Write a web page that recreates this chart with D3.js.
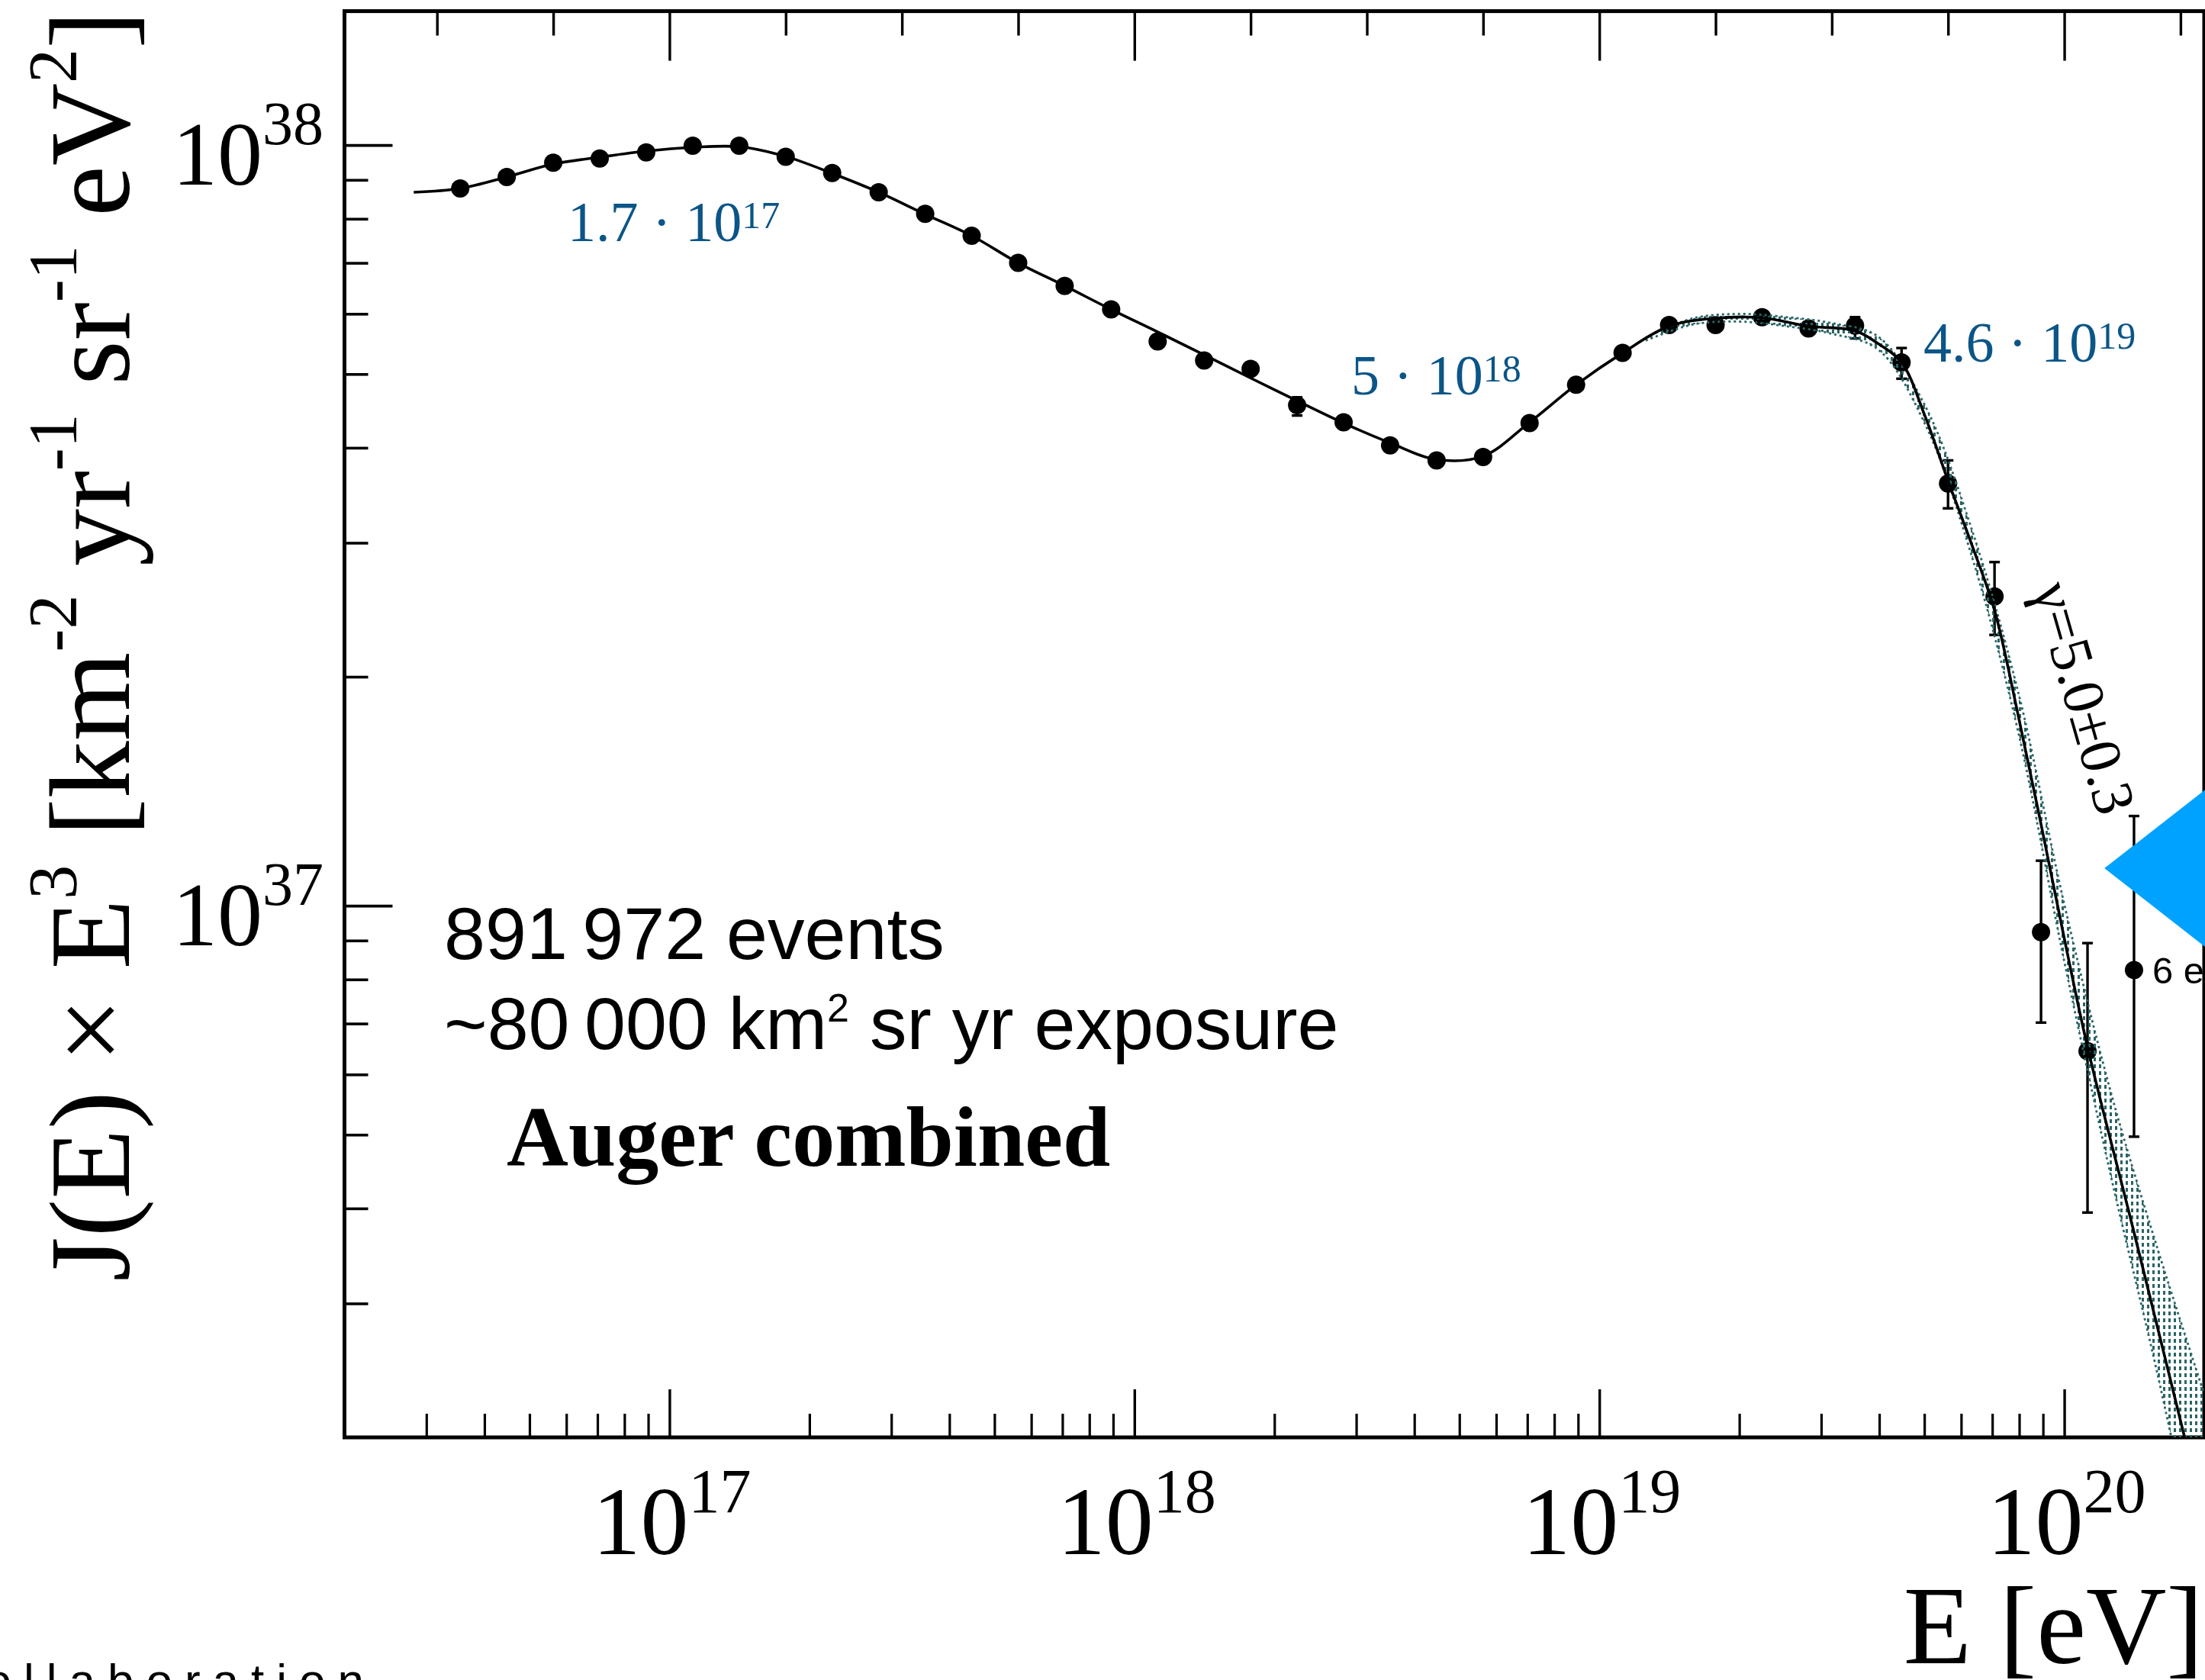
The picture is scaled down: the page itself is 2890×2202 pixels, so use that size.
<!DOCTYPE html>
<html>
<head>
<meta charset="utf-8">
<script src="https://cdn.jsdelivr.net/npm/d3@7"></script>
<style>
  html, body { margin: 0; padding: 0; background: #ffffff; }
  svg { display: block; }
</style>
</head>
<body>
<svg id="chart" width="2890" height="2202"></svg>
<script>
// ---------------- DATA ----------------
// bin centres, log10(E / eV)
const logE = [16.55,16.65,16.75,16.85,16.95,17.05,17.15,17.25,17.35,17.45,
              17.55,17.65,17.75,17.85,17.95,18.05,18.15,18.25,18.35,18.45,
              18.55,18.65,18.75,18.85,18.95,19.05,19.15,19.25,19.35,19.45,
              19.55,19.65,19.75,19.85,19.95,20.05,20.15];
// J(E) x E^3, in units of 1e37 km^-2 yr^-1 sr^-1 eV^2
const flux = [8.77,9.08,9.48,9.60,9.78,9.98,9.98,9.65,9.19,8.67,
              8.12,7.60,7.00,6.53,6.08,5.52,5.21,5.08,4.55,4.32,
              4.03,3.85,3.89,4.31,4.84,5.33,5.80,5.80,5.94,5.74,
              5.79,5.18,3.59,2.55,0.923,0.644,0.823];
// error-bar ends (null = hidden behind the marker)
const errHigh = [null,null,null,null,null,null,null,null,null,null,
                 null,null,null,null,null,null,null,null,4.66,null,
                 null,null,null,null,null,null,null,null,null,null,
                 5.94,5.41,3.85,2.83,1.146,0.893,1.312];
const errLow  = [null,null,null,null,null,null,null,null,null,null,
                 null,null,null,null,null,null,null,null,4.41,null,
                 null,null,null,null,null,null,null,null,null,null,
                 5.57,4.93,3.33,2.27,0.702,0.395,0.497];

// fitted spectrum
const fitLogE = [16.45,16.55,16.65,16.75,16.85,16.95,17.05,17.15,17.25,17.35,
                 17.45,17.55,17.65,17.75,17.85,17.95,18.05,18.15,18.25,18.35,
                 18.45,18.55,18.65,18.75,18.85,18.95,19.05,19.15,19.25,19.35,
                 19.45,19.55,19.60,19.65,19.70,19.75,19.80,19.85,19.90,19.95,
                 20.00,20.05,20.15,20.30];
const fitFlux = [8.67,8.77,9.08,9.44,9.64,9.82,9.93,9.95,9.66,9.18,
                 8.67,8.11,7.60,7.00,6.53,6.08,5.68,5.30,4.94,4.61,
                 4.31,4.06,3.86,3.90,4.32,4.84,5.33,5.78,5.92,5.93,
                 5.78,5.70,5.48,5.18,4.41,3.62,2.995,2.445,1.79,1.28,
                 0.906,0.652,0.372,0.158];

// uncertainty band of the fit
const bandLogE = [19.10,19.20,19.30,19.40,19.50,19.60,19.70,19.80,19.90,20.00,20.10,20.20,20.30];
const bandHigh = [5.585,5.916,5.998,5.943,5.834,5.598,4.550,3.138,1.919,1.005,0.569,0.355,0.229];
const bandLow  = [5.534,5.808,5.861,5.781,5.649,5.383,4.305,2.895,1.702,0.845,0.442,0.243,0.126];

// axis tick labels
const xMajorExp = [17, 18, 19, 20];
const yMajorExp = [37, 38];

// annotations
const breakMantissa = ["1.7", "5", "4.6"];
const breakExp      = ["17", "18", "19"];
const statLines     = ["891\u2009972 events", "~80\u2009000 km", "Auger combined"];
const slopeLabel    = "\u03b3=5.0\u00b10.3";
const lastBinLabel  = "6 events";
const otherMarker   = {E: 1.22e20, J: 1.12e37};

// ---------------- SCALES ----------------
const SERIF = "'Liberation Serif','Times New Roman',Times,serif";
const SANS  = "'Liberation Sans',Arial,Helvetica,sans-serif";
const P = {left: 451.5, right: 2889, top: 14.6, bottom: 1884};
const x = d3.scaleLog().domain([2e16, 2e20]).range([P.left, P.right]);
const y = d3.scaleLog().domain([2e36, 1.5e38]).range([P.bottom, P.top]);

const svg = d3.select("#chart");
const defs = svg.append("defs");
defs.append("clipPath").attr("id", "plotClip")
  .append("rect").attr("x", P.left).attr("y", P.top)
  .attr("width", P.right - P.left).attr("height", P.bottom - P.top);
const pat = defs.append("pattern").attr("id", "bandDots")
  .attr("patternUnits", "userSpaceOnUse").attr("width", 7).attr("height", 9);
pat.append("rect").attr("x", 0).attr("y", 0).attr("width", 3).attr("height", 5).attr("fill", "#2a6565");

// ---------------- AXES (ticks inward) ----------------
function decadeTicks(d0, d1, vmin, vmax) {
  const major = [], minor = [];
  for (let d = d0; d <= d1; d++) {
    for (let m = 1; m <= 9; m++) {
      const v = m * Math.pow(10, d);
      if (v < vmin * 0.999 || v > vmax * 1.001) continue;
      (m === 1 ? major : minor).push(v);
    }
  }
  return {major, minor};
}
const xt = decadeTicks(16, 20, 2e16, 2e20);
const yt = decadeTicks(36, 38, 2e36, 1.5e38);

function styleAxis(g, w) {
  g.select(".domain").remove();
  g.selectAll(".tick line").attr("stroke", "#000").attr("stroke-width", w);
  g.selectAll(".tick text").remove();
}
// bottom
svg.append("g").attr("transform", `translate(0,${P.bottom})`)
  .call(d3.axisBottom(x).tickValues(xt.minor.filter(v => v < 1.99e20)).tickSize(-31).tickFormat(""))
  .call(g => styleAxis(g, 3.2));
svg.append("g").attr("transform", `translate(0,${P.bottom})`)
  .call(d3.axisBottom(x).tickValues(xt.major).tickSize(-63).tickFormat(""))
  .call(g => styleAxis(g, 3.4));
// top: ticks every quarter decade
const topMinor = [], topMajor = [];
for (let q = 16.5; q <= 20.26; q += 0.25) {
  (Math.abs(q - Math.round(q)) < 1e-9 ? topMajor : topMinor).push(Math.pow(10, q));
}
svg.append("g").attr("transform", `translate(0,${P.top})`)
  .call(d3.axisTop(x).tickValues(topMinor).tickSize(-32).tickFormat(""))
  .call(g => styleAxis(g, 3.4));
svg.append("g").attr("transform", `translate(0,${P.top})`)
  .call(d3.axisTop(x).tickValues(topMajor).tickSize(-65).tickFormat(""))
  .call(g => styleAxis(g, 3.4));
// left
svg.append("g").attr("transform", `translate(${P.left},0)`)
  .call(d3.axisLeft(y).tickValues(yt.minor.filter(v => v > 2.01e36)).tickSize(-31).tickFormat(""))
  .call(g => styleAxis(g, 3.6));
svg.append("g").attr("transform", `translate(${P.left},0)`)
  .call(d3.axisLeft(y).tickValues(yt.major).tickSize(-63).tickFormat(""))
  .call(g => styleAxis(g, 3.6));

// frame
svg.append("rect").attr("x", P.left).attr("y", P.top)
  .attr("width", P.right - P.left).attr("height", P.bottom - P.top)
  .attr("fill", "none").attr("stroke", "#000").attr("stroke-width", 5);

// ---------------- rich text helper ----------------
function rich(sel, parts, base, sup, shift) {
  let cur = 0;
  parts.forEach(p => {
    const t = sel.append("tspan").text(p.t);
    if (p.sup) {
      t.attr("font-size", sup);
      const dy = -shift - cur; if (dy) t.attr("dy", dy); cur = -shift;
    } else {
      t.attr("font-size", p.size || base);
      if (p.weight) t.attr("font-weight", p.weight);
      const dy = -cur; if (dy) t.attr("dy", dy); cur = 0;
    }
  });
}

// tick labels
xMajorExp.forEach(e => {
  const t = svg.append("text").attr("x", x(Math.pow(10, e)) + 3).attr("y", 2037)
    .attr("text-anchor", "middle").attr("font-family", SERIF).attr("fill", "#000");
  rich(t, [{t: "10"}, {t: String(e), sup: true}], 126, 82, 55);
});
yMajorExp.forEach(e => {
  const t = svg.append("text").attr("x", 424).attr("y", y(Math.pow(10, e)) + 52)
    .attr("text-anchor", "end").attr("font-family", SERIF).attr("fill", "#000");
  rich(t, [{t: "10"}, {t: String(e), sup: true}], 118, 80, 53);
});

// axis titles
svg.append("text").attr("x", 2888).attr("y", 2180)
  .attr("text-anchor", "end").attr("font-family", SERIF).attr("font-size", 146).attr("fill", "#000")
  .text("E [eV]");
const yTitle = svg.append("text").attr("transform", "translate(169,14) rotate(-90)")
  .attr("text-anchor", "end").attr("font-family", SERIF).attr("fill", "#000");
rich(yTitle, [
  {t: "J(E) \u00d7 E"}, {t: "3", sup: true}, {t: " [km"}, {t: "-2", sup: true},
  {t: " yr"}, {t: "-1", sup: true}, {t: " sr"}, {t: "-1", sup: true},
  {t: " eV"}, {t: "2", sup: true}, {t: "]"}
], 150, 90, 69);

// ---------------- DATA MARKS ----------------
const plot = svg.append("g").attr("clip-path", "url(#plotClip)");
const pts = logE.map((le, i) => ({E: Math.pow(10, le), J: flux[i] * 1e37,
  hi: errHigh[i] == null ? null : errHigh[i] * 1e37,
  lo: errLow[i] == null ? null : errLow[i] * 1e37}));

// error bars
const eb = plot.append("g").attr("stroke", "#000").attr("stroke-width", 3.4);
pts.filter(d => d.hi != null).forEach(d => {
  const cx = x(d.E);
  eb.append("line").attr("x1", cx).attr("x2", cx).attr("y1", y(d.hi)).attr("y2", y(d.lo));
  eb.append("line").attr("x1", cx - 7).attr("x2", cx + 7).attr("y1", y(d.hi)).attr("y2", y(d.hi));
  eb.append("line").attr("x1", cx - 7).attr("x2", cx + 7).attr("y1", y(d.lo)).attr("y2", y(d.lo));
});
// markers
plot.append("g").selectAll("circle").data(pts).join("circle")
  .attr("cx", d => x(d.E)).attr("cy", d => y(d.J)).attr("r", 12).attr("fill", "#000");

// uncertainty band
const bandIdx = d3.range(bandLogE.length);
const bandArea = d3.area()
  .x(i => x(Math.pow(10, bandLogE[i])))
  .y0(i => y(bandLow[i] * 1e37))
  .y1(i => y(bandHigh[i] * 1e37))
  .curve(d3.curveCatmullRom.alpha(0.5));
plot.append("path").datum(bandIdx).attr("d", bandArea).attr("fill", "url(#bandDots)").attr("stroke", "none");
const edge = (arr) => d3.line().x(i => x(Math.pow(10, bandLogE[i]))).y(i => y(arr[i] * 1e37))
  .curve(d3.curveCatmullRom.alpha(0.5));
[bandHigh, bandLow].forEach(arr => {
  plot.append("path").datum(bandIdx).attr("d", edge(arr)).attr("fill", "none")
    .attr("stroke", "#2a6565").attr("stroke-width", 2.8).attr("stroke-dasharray", "3,4");
});

// fit line
const fitIdx = d3.range(fitLogE.length);
plot.append("path").datum(fitIdx)
  .attr("d", d3.line().x(i => x(Math.pow(10, fitLogE[i]))).y(i => y(fitFlux[i] * 1e37))
    .curve(d3.curveCatmullRom.alpha(0.5)))
  .attr("fill", "none").attr("stroke", "#000").attr("stroke-width", 3.6);

// other marker (big blue triangle, partially outside the picture)
const tx = x(otherMarker.E), ty = y(otherMarker.J);
svg.append("path")
  .attr("d", `M${tx},${ty} L${tx + 300},${ty - 234} L${tx + 300},${ty + 234} Z`)
  .attr("fill", "#00a2ff");

// ---------------- ANNOTATIONS ----------------
const BLUE = "#0b5587";
const annPos = [[744, 316], [1771, 517], [2521, 474]];
breakMantissa.forEach((m, i) => {
  const t = svg.append("text").attr("x", annPos[i][0]).attr("y", annPos[i][1])
    .attr("font-family", SERIF).attr("fill", BLUE);
  rich(t, [{t: m + " \u00b7 10"}, {t: breakExp[i], sup: true}], 74, 50, 17);
});

svg.append("text").attr("x", 582).attr("y", 1257).attr("font-family", SANS)
  .attr("font-size", 97).attr("fill", "#000").text(statLines[0]);
const st2 = svg.append("text").attr("x", 582).attr("y", 1375).attr("font-family", SANS).attr("fill", "#000");
rich(st2, [{t: statLines[1], size: 97}, {t: "2", sup: true}, {t: " sr yr exposure", size: 97}], 97, 52, 36);
svg.append("text").attr("x", 664).attr("y", 1528).attr("font-family", SERIF)
  .attr("font-size", 112).attr("font-weight", "bold").attr("fill", "#000").text(statLines[2]);

svg.append("text").attr("transform", "translate(2664,772) rotate(74)")
  .attr("font-family", SERIF).attr("font-size", 77).attr("fill", "#000").text(slopeLabel);

svg.append("text").attr("x", 2821).attr("y", 1289).attr("font-family", SANS)
  .attr("font-size", 49).attr("fill", "#000").text(lastBinLabel);

const coll = svg.append("text").attr("y", 2224).attr("font-family", SANS)
  .attr("font-size", 62).attr("letter-spacing", 16).attr("fill", "#000")
  .text("Pierre Auger Collaboration");
const len = coll.node().getComputedTextLength();
coll.attr("x", 493 - len);
</script>
</body>
</html>
